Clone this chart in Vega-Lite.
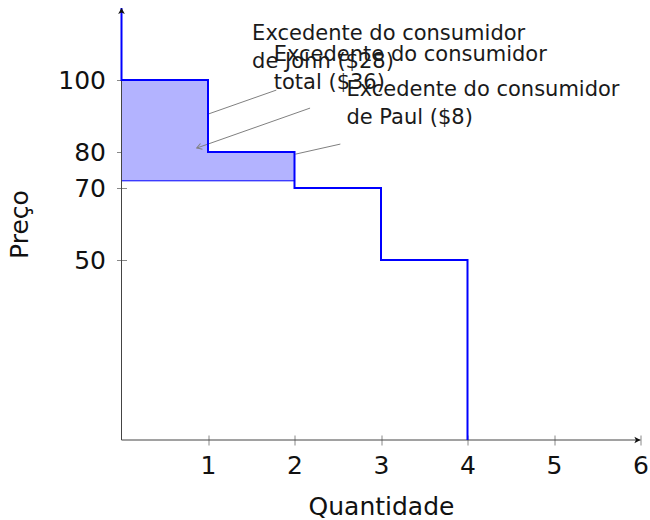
{
  "$schema": "https://vega.github.io/schema/vega-lite/v6.json",
  "width": 519,
  "height": 432,
  "autosize": "none",
  "padding": {"left": 121.5, "top": 8, "right": 9.5, "bottom": 80},
  "config": {"view": {"stroke": null}, "font": "DejaVu Sans"},
  "datasets": {
    "demand": [
      {"i": 0, "x": 0, "y": 120},
      {"i": 1, "x": 0, "y": 100},
      {"i": 2, "x": 1, "y": 100},
      {"i": 3, "x": 1, "y": 80},
      {"i": 4, "x": 2, "y": 80},
      {"i": 5, "x": 2, "y": 70},
      {"i": 6, "x": 3, "y": 70},
      {"i": 7, "x": 3, "y": 50},
      {"i": 8, "x": 4, "y": 50},
      {"i": 9, "x": 4, "y": 0}
    ],
    "surplus": [
      {"x": 0, "y": 100, "base": 72},
      {"x": 1, "y": 80, "base": 72},
      {"x": 2, "y": 80, "base": 72}
    ],
    "pointers": [
      {"x": 1.79, "y": 97.2, "x2": 1.01, "y2": 90.6},
      {"x": 2.18, "y": 92.2, "x2": 0.87, "y2": 81.1},
      {"x": 2.53, "y": 82.2, "x2": 2.01, "y2": 79.4}
    ],
    "pointerhead": [
      {"x": 0.87, "y": 81.1}
    ],
    "axislines": [
      {"x": 0, "y": 0, "x2": 6, "y2": 0},
      {"x": 0, "y": 0, "x2": 0, "y2": 120}
    ],
    "xarrow": [{"x": 6, "y": 0}],
    "yarrow": [{"x": 0, "y": 120}],
    "labels": [
      {"x": 1.51, "y": 111.2, "t": "Excedente do consumidor\nde John ($28)"},
      {"x": 1.76, "y": 105.3, "t": "Excedente do consumidor\ntotal ($36)"},
      {"x": 2.6, "y": 95.6, "t": "Excedente do consumidor\nde Paul ($8)"}
    ]
  },
  "encoding": {
    "x": {
      "field": "x",
      "type": "quantitative",
      "scale": {"domain": [0, 6], "nice": false, "zero": false},
      "axis": {
        "title": "Quantidade",
        "values": [1, 2, 3, 4, 5, 6],
        "domain": false,
        "grid": false,
        "offset": -5,
        "tickSize": 10,
        "tickColor": "#888888",
        "labelFontSize": 25,
        "labelColor": "#111111",
        "labelPadding": 8,
        "labelFlush": false,
        "titleFontSize": 25,
        "titleFontWeight": "normal",
        "titleColor": "#111111",
        "titlePadding": 16
      }
    },
    "y": {
      "field": "y",
      "type": "quantitative",
      "scale": {"domain": [0, 120], "nice": false, "zero": false},
      "axis": {
        "title": "Preço",
        "values": [50, 70, 80, 100],
        "domain": false,
        "grid": false,
        "offset": -5,
        "tickSize": 10,
        "tickColor": "#888888",
        "labelFontSize": 25,
        "labelColor": "#111111",
        "labelPadding": 11,
        "labelFlush": false,
        "titleFontSize": 25,
        "titleFontWeight": "normal",
        "titleColor": "#111111",
        "titlePadding": 25
      }
    }
  },
  "layer": [
    {
      "data": {"name": "surplus"},
      "mark": {"type": "area", "interpolate": "step-after", "fill": "#b3b3ff", "fillOpacity": 1, "stroke": "#0000ff", "strokeWidth": 1},
      "encoding": {"y2": {"field": "base"}}
    },
    {
      "data": {"name": "axislines"},
      "mark": {"type": "rule", "color": "#444444", "strokeWidth": 1},
      "encoding": {"x2": {"field": "x2"}, "y2": {"field": "y2"}}
    },
    {
      "data": {"name": "pointers"},
      "mark": {"type": "rule", "color": "#808080", "strokeWidth": 1},
      "encoding": {"x2": {"field": "x2"}, "y2": {"field": "y2"}}
    },
    {
      "data": {"name": "pointerhead"},
      "mark": {"type": "point", "shape": "M-0.6,1L0,0L0.6,1", "angle": 250.5, "size": 100, "filled": false, "stroke": "#808080", "strokeWidth": 1, "opacity": 1}
    },
    {
      "data": {"name": "demand"},
      "mark": {"type": "line", "color": "#0000ff", "strokeWidth": 2},
      "encoding": {"order": {"field": "i", "type": "quantitative"}}
    },
    {
      "data": {"name": "xarrow"},
      "mark": {"type": "point", "shape": "M0,0L-1,-0.55L-0.75,0L-1,0.55Z", "size": 150, "filled": true, "fill": "#111111", "strokeWidth": 0, "opacity": 1}
    },
    {
      "data": {"name": "yarrow"},
      "mark": {"type": "point", "shape": "M0,0L-0.55,1L0,0.75L0.55,1Z", "size": 150, "filled": true, "fill": "#111111", "strokeWidth": 0, "opacity": 1}
    },
    {
      "data": {"name": "labels"},
      "mark": {"type": "text", "align": "left", "baseline": "alphabetic", "fontSize": 21, "lineBreak": "\n", "lineHeight": 28, "color": "#1a1a1a"},
      "encoding": {"text": {"field": "t", "type": "nominal"}}
    }
  ]
}
